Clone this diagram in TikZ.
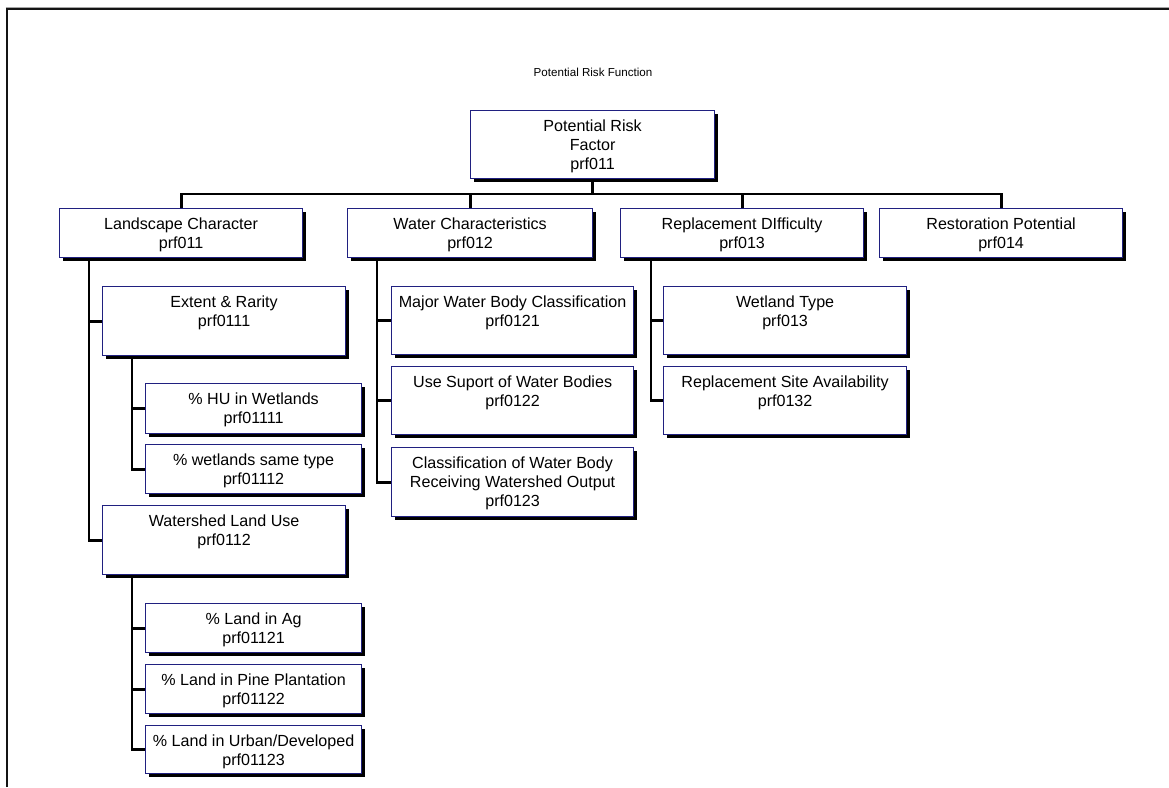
\documentclass[tikz,border=0pt]{standalone}
\usepackage{fontspec}
\setmainfont{Liberation Sans}
\usetikzlibrary{shadows,backgrounds}

\definecolor{boxline}{RGB}{32,32,128}
\definecolor{frameline}{RGB}{20,20,20}

% box contents: width, height, centred lines hanging from the top edge
\newcommand{\bxtext}[3]{\parbox[t][#2pt][t]{#1pt}{\centering\fontsize{16.1}{19}\selectfont\rule{0pt}{20.5pt}#3}}

\tikzset{
  bx/.style={draw=boxline, line width=1.2pt, fill=white, inner sep=0pt,
    anchor=north west, rectangle,
    drop shadow={shadow xshift=3.5pt, shadow yshift=-3.5pt, fill=black, opacity=1}},
  conn/.style={draw=black, line width=2.8pt},
}

\begin{document}
\begin{tikzpicture}[x=1pt, y=-1pt]
  \useasboundingbox (0,0) rectangle (1169,787);

  % page frame (left and top edges)
  \draw[gray!70, line width=1pt] (5.5,7.6) -- (1169,7.6);
  \draw[frameline, line width=2pt] (6.5,787) -- (6.5,9.2) -- (1169,9.2);

  \node (title) at (593,72) {\fontsize{11.6}{13}\selectfont Potential Risk Function};

  % top level
  \node[bx] (top) at (470,110) {\bxtext{244}{68}{Potential Risk\\Factor\\prf011}};

  % second level
  \node[bx] (lc) at (59,208)  {\bxtext{243}{49}{Landscape Character\\prf011}};
  \node[bx] (wc) at (347,208) {\bxtext{245}{49}{Water Characteristics\\prf012}};
  \node[bx] (rd) at (620,208) {\bxtext{243}{49}{Replacement DIfficulty\\prf013}};
  \node[bx] (rp) at (879,208) {\bxtext{243}{49}{Restoration Potential\\prf014}};

  % landscape character branch
  \node[bx] (er)  at (102,286) {\bxtext{243}{69}{Extent \& Rarity\\prf0111}};
  \node[bx] (hu)  at (145,383) {\bxtext{216}{50}{\% HU in Wetlands\\prf01111}};
  \node[bx] (wst) at (145,444) {\bxtext{216}{49}{\% wetlands same type\\prf01112}};
  \node[bx] (wlu) at (102,505) {\bxtext{243}{69}{Watershed Land Use\\prf0112}};
  \node[bx] (ag)  at (145,603) {\bxtext{216}{49}{\% Land in Ag\\prf01121}};
  \node[bx] (pp)  at (145,664) {\bxtext{216}{49}{\% Land in Pine Plantation\\prf01122}};
  \node[bx] (ud)  at (145,725) {\bxtext{216}{48}{\% Land in Urban/Developed\\prf01123}};

  % water characteristics branch
  \node[bx] (mw) at (391,286) {\bxtext{242}{68}{Major Water Body Classification\\prf0121}};
  \node[bx] (us) at (391,366) {\bxtext{242}{68}{Use Suport of Water Bodies\\prf0122}};
  \node[bx] (cw) at (391,447) {\bxtext{242}{69}{Classification of Water Body\\Receiving Watershed Output\\prf0123}};

  % replacement difficulty branch
  \node[bx] (wt)  at (663,286) {\bxtext{243}{68}{Wetland Type\\prf013}};
  \node[bx] (rsa) at (663,366) {\bxtext{243}{68}{Replacement Site Availability\\prf0132}};

  \begin{scope}[on background layer]
    % bus under the top box
    \coordinate (bus) at (592,194);
    \draw[conn] (top.south) -- (top.south |- bus);
    \draw[conn] (lc.north) -- (lc.north |- bus) -- (rp.north |- bus) -- (rp.north);
    \draw[conn] (wc.north) -- (wc.north |- bus);
    \draw[conn] (rd.north) -- (rd.north |- bus);

    % side trunks
    \draw[conn] ([xshift=30pt]lc.south west) |- (er.west);
    \draw[conn] ([xshift=30pt]lc.south west) |- (wlu.west);
    \draw[conn] ([xshift=30pt]er.south west) |- (hu.west);
    \draw[conn] ([xshift=30pt]er.south west) |- (wst.west);
    \draw[conn] ([xshift=30pt]wlu.south west) |- (ag.west);
    \draw[conn] ([xshift=30pt]wlu.south west) |- (pp.west);
    \draw[conn] ([xshift=30pt]wlu.south west) |- (ud.west);
    \draw[conn] ([xshift=30pt]wc.south west) |- (mw.west);
    \draw[conn] ([xshift=30pt]wc.south west) |- (us.west);
    \draw[conn] ([xshift=30pt]wc.south west) |- (cw.west);
    \draw[conn] ([xshift=31pt]rd.south west) |- (wt.west);
    \draw[conn] ([xshift=31pt]rd.south west) |- (rsa.west);
  \end{scope}
\end{tikzpicture}
\end{document}
